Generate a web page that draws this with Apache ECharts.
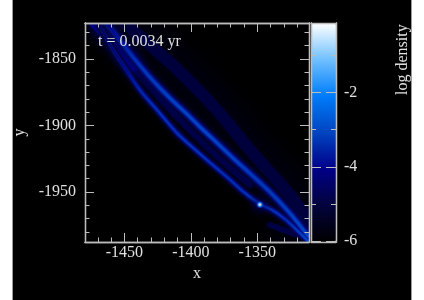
<!DOCTYPE html>
<html><head><meta charset="utf-8">
<style>html,body{margin:0;padding:0;background:#fff}#c{width:424px;height:300px;filter:blur(0.5px)}</style>
<script src="https://cdn.jsdelivr.net/npm/echarts@6/dist/echarts.min.js"></script>
</head><body><div id="c"></div>
<script>
const xMajor=[-1450,-1400,-1350];
const xMinor=[-1470,-1460,-1440,-1430,-1420,-1410,-1390,-1380,-1370,-1360,-1340,-1330,-1320];
const yMajor=[-1850,-1900,-1950];
const yMinor=[-1830,-1840,-1860,-1870,-1880,-1890,-1910,-1920,-1930,-1940,-1960,-1970,-1980];
const cbMajor=[-2,-4,-6];
const cbMinor=[-1,-3,-5];
const timeLabel='t = 0.0034 yr';
// [x, y, log density] along the two filaments
const upperRidge=[[-1463.9,-1822.9,-4.2],[-1458.7,-1829,-3.9],[-1451.9,-1838,-3.6],[-1443.6,-1848.5,-3.35],[-1432.3,-1862,-3.2],[-1423.3,-1871.8,-3.15],[-1413.5,-1881.6,-3.1],[-1402.9,-1891.4,-3.05],[-1393.1,-1901.1,-3.05],[-1383.3,-1910.2,-3.05],[-1368.3,-1924.4,-3.1],[-1351.7,-1939.5,-3.25],[-1338.9,-1951.5,-3.2],[-1326.8,-1964.3,-3.15],[-1319.3,-1973.3,-3.05],[-1311.8,-1983.1,-2.95]];
const lowerRidge=[[-1468.4,-1825.2,-4.6],[-1459.4,-1841.7,-4.3],[-1448.1,-1859,-3.9],[-1438.3,-1873.3,-3.5],[-1425.5,-1888.3,-3.35],[-1410.5,-1905.6,-3.35],[-1400.7,-1914.7,-3.3],[-1387.9,-1925.9,-3.35],[-1372.8,-1938.7,-3.4],[-1359.3,-1950.8,-3.35],[-1348,-1959,-3.1],[-1339,-1963.5,-3.3],[-1329.2,-1970.3,-3.4],[-1317.9,-1980.8,-3.15],[-1311.8,-1986.8,-3.0]];
const outerHaze=[[-1449.6,-1823],[-1430.8,-1839.5],[-1408.2,-1859.8],[-1381.9,-1886.8],[-1355.5,-1918.4],[-1325.4,-1952.3],[-1308.8,-1974.8]];
const innerHaze=[[-1468.4,-1823],[-1456.4,-1838.7],[-1444.4,-1855.3],[-1432.3,-1869.5],[-1412,-1892],[-1385.6,-1918.4],[-1355.5,-1944.7]];
const topHaze=[[-1472,-1823],[-1456,-1839],[-1444,-1855]];
const cornerHaze=[[-1340.4,-1974.8],[-1317.8,-1983.1]];
const clump=[[-1348,-1959.5]];

const frame='#bdbdbd', text='#e0e0e0', font='"Liberation Serif"';
function ridge(pts,d,w,b){
  const data=pts.map(p=>[p[0],p[1],p[0],p[1],p[2]+d]);
  return {type:'custom',xAxisIndex:0,yAxisIndex:0,clip:true,z:2,silent:true,
  encode:{x:0,y:1},data,
  renderItem(p,api){ if(p.dataIndex!==0) return null;
    const P=pts.map(q=>api.coord([q[0],q[1]]));
    const a=P[0],e=P[P.length-1],vx=e[0]-a[0],vy=e[1]-a[1],L=vx*vx+vy*vy;
    const stops=P.map((q,i)=>({offset:Math.min(1,Math.max(0,((q[0]-a[0])*vx+(q[1]-a[1])*vy)/L)),color:api.visual('color',i)}));
    const g=new echarts.graphic.LinearGradient(a[0],a[1],e[0],e[1],stops,true);
    return {type:'polyline',shape:{points:P,smooth:0.35},style:{fill:null,stroke:g,lineWidth:w,lineCap:'round',lineJoin:'round',shadowBlur:b,shadowColor:api.visual('color',6)}};}};
}
function haze(data,color,w,b,op){return {type:'custom',xAxisIndex:0,yAxisIndex:0,clip:true,z:1,silent:true,
  encode:{x:0,y:1},data,
  renderItem(p,api){ if(p.dataIndex!==0) return null;
    return {type:'polyline',shape:{points:data.map(q=>api.coord(q)),smooth:0.4},style:{fill:null,stroke:color,lineWidth:w,opacity:op,lineCap:'round',lineJoin:'round',shadowBlur:b,shadowColor:color}};}};}
function axis(pos,grid,min,max,ticks,len,extra){return Object.assign({type:'value',gridIndex:grid,position:pos,min,max,z:10,splitLine:{show:false},
  axisLine:{show:true,onZero:false,lineStyle:{color:frame,width:1.3}},
  axisTick:{show:true,inside:true,length:len,customValues:ticks,lineStyle:{color:frame,width:1}},
  axisLabel:{show:false}},extra||{});}
const lab=(vals,margin)=>({axisLabel:{show:true,customValues:vals,formatter:v=>String(v),color:text,fontFamily:font,fontSize:16,margin}});
const xR=[-1479.7,-1311], yR=[-1987.6,-1822.9], cR=[-6.03,-0.12];
const gx=(pos,t,l,e)=>axis(pos,0,xR[0],xR[1],t,l,e), gy=(pos,t,l,e)=>axis(pos,0,yR[0],yR[1],t,l,e);
const cy=(pos,t,l,e)=>axis(pos,1,cR[0],cR[1],t,l,e);
const cbEdge=pos=>({type:'value',gridIndex:1,position:pos,min:0,max:1,z:10,splitLine:{show:false},axisTick:{show:false},axisLabel:{show:false},axisLine:{show:true,onZero:false,lineStyle:{color:frame,width:1.3}}});
const hazeSeries=[
  haze(outerHaze,'#00004c',12,34,0.75),
  haze(innerHaze,'#00006a',6,14,0.6),
  haze(topHaze,'#00009a',12,14,0.75),
  haze(cornerHaze,'#000060',6,26,0.7)
];
const ridgeSeries=[
  ridge(upperRidge,-2.0,8,6),ridge(lowerRidge,-2.0,6.4,5),
  ridge(upperRidge,-1.3,6,4),ridge(lowerRidge,-1.3,4.8,3),
  ridge(upperRidge,-0.65,4.2,3),ridge(lowerRidge,-0.65,3.3,2.5),
  ridge(upperRidge,-0.05,2.6,2),ridge(lowerRidge,-0.05,2,1.5)
];
const ridgeIdx=ridgeSeries.map((_,i)=>hazeSeries.length+i);
const opt={
  animation:false,
  backgroundColor:'#fff',
  grid:[{left:85,top:23,width:224,height:219},{left:311,top:23,width:25,height:219}],
  graphic:[
    {type:'rect',z:-10,shape:{x:12.5,y:-2,width:399,height:304},style:{fill:'#000',stroke:'#9a9a9a',lineWidth:1}},
    {type:'text',z:20,left:98,top:34,style:{text:timeLabel,fill:text,font:'16px "Liberation Serif"'}},
    {type:'text',z:20,x:403,y:95,rotation:Math.PI/2,style:{text:'log density',fill:text,font:'16px "Liberation Serif"',align:'left',verticalAlign:'middle'},originX:0,originY:0}
  ],
  xAxis:[
    gx('bottom',xMajor,9,Object.assign(lab(xMajor,3),{name:'x',nameLocation:'middle',nameGap:19,nameTextStyle:{color:text,fontFamily:font,fontSize:16}})),
    gx('bottom',xMinor,4.5),gx('top',xMajor,9),gx('top',xMinor,4.5),
    cbEdge('bottom'),cbEdge('top')
  ],
  yAxis:[
    gy('left',yMajor,9,Object.assign(lab(yMajor,9),{name:'y',nameLocation:'middle',nameGap:33,nameRotate:90,nameTextStyle:{color:text,fontFamily:font,fontSize:16}})),
    gy('left',yMinor,4.5),gy('right',yMajor,9),gy('right',yMinor,4.5),
    cy('left',cbMajor,10),cy('left',cbMinor,5),
    cy('right',cbMajor,10,lab(cbMajor,8)),cy('right',cbMinor,5)
  ],
  visualMap:{type:'continuous',show:true,dimension:4,seriesIndex:ridgeIdx,min:cR[0],max:cR[1],calculable:false,realtime:false,
    left:311,top:23,itemWidth:25,itemHeight:219,padding:0,text:null,showLabel:false,hoverLink:false,z:4,
    inRange:{color:['#000000','#03033c','#000088','#0044c0','#007cfa','#70c0ff','#ffffff']},textStyle:{color:'rgba(0,0,0,0)',fontSize:1}},
  series:[...hazeSeries,...ridgeSeries,
    {type:'scatter',xAxisIndex:0,yAxisIndex:0,z:3,silent:true,data:clump,symbolSize:30,
      itemStyle:{color:new echarts.graphic.RadialGradient(.5,.5,.5,[{offset:0,color:'rgba(0,0,120,.8)'},{offset:1,color:'rgba(0,0,40,0)'}])}},
    {type:'scatter',xAxisIndex:0,yAxisIndex:0,z:4,silent:true,data:clump,symbolSize:8,
      itemStyle:{color:new echarts.graphic.RadialGradient(.5,.5,.5,[{offset:0,color:'#fff'},{offset:.25,color:'#e8f6ff'},{offset:.5,color:'#1f94ff'},{offset:1,color:'rgba(0,40,200,0)'}])}}
  ]
};
const chart=echarts.init(document.getElementById('c'),null,{renderer:'canvas'});
chart.setOption(opt);
</script></body></html>
